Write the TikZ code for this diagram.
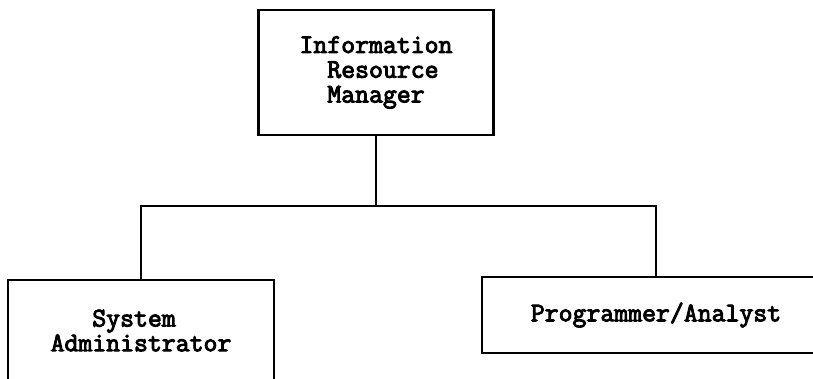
\documentclass[tikz,border=0pt]{standalone}
\usepackage{fontspec}
\setmonofont[AutoFakeBold=3.5]{Latin Modern Mono}

\begin{document}
\begin{tikzpicture}[x=0.025cm, y=-0.025cm,
	orgbox/.style={draw, line width=1.6pt, shape=rectangle, inner sep=0pt, font=\ttfamily\bfseries\fontsize{19.2}{17.6}\selectfont},
	wire/.style={line width=1.3pt}]
	% Paths, nodes and wires:
	\path[use as bounding box, fill=white] (0, 0) rectangle (813, 379);
	\clip (0, 0) rectangle (813, 379);
	\node[orgbox, minimum width=5.875cm, minimum height=3.125cm, align=left] (mgr) at (376, 72.5){Information\\\phantom{In}Resource\\\phantom{In}Manager};
	\node[orgbox, minimum width=6.65cm, minimum height=2.525cm, align=left] (sysadm) at (141, 330.5){\phantom{Adm}System\\Administrator};
	\node[orgbox, minimum width=8.7cm, minimum height=1.9cm] (prog) at (656, 315){Programmer/Analyst};
	\coordinate (branch) at (376, 206);
	\draw[wire] (mgr.south) -- (branch);
	\draw[wire] (branch) -| (sysadm.north);
	\draw[wire] (branch) -| (prog.north);
\end{tikzpicture}
\end{document}
